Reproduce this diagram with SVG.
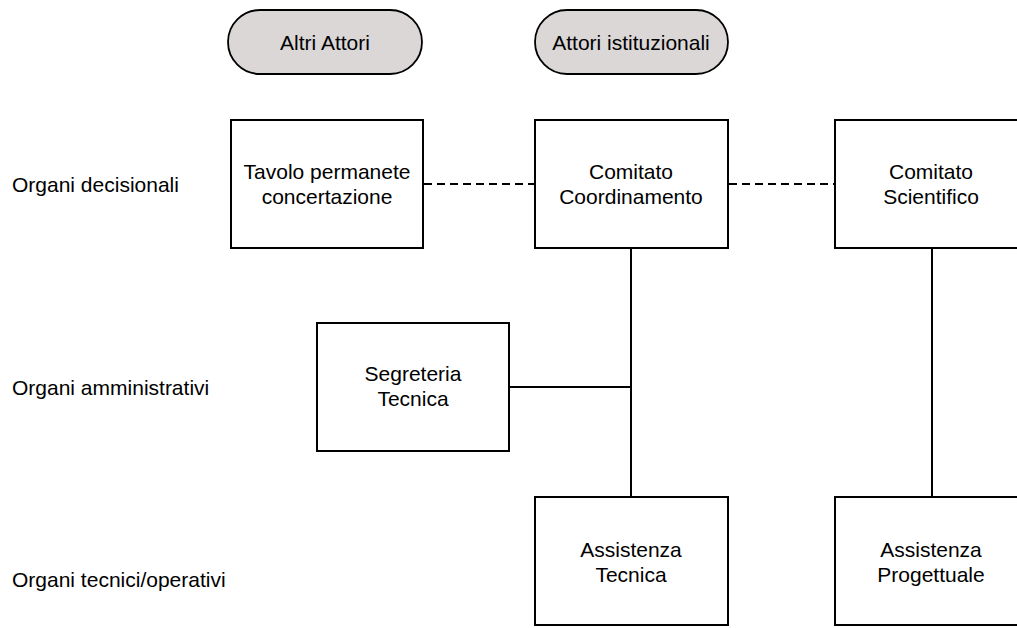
<svg xmlns="http://www.w3.org/2000/svg" width="1017" height="628" viewBox="0 0 1017 628">
<style>
text{font-family:"Liberation Sans",Arial,sans-serif;font-size:21px;fill:#000}
.c{text-anchor:middle}
.box{fill:#fff;stroke:#000;stroke-width:2}
.pill{fill:#dbd7d7;stroke:#000;stroke-width:1.8}
.ln{stroke:#000;stroke-width:2;fill:none}
.dash{stroke:#000;stroke-width:2;fill:none;stroke-dasharray:8 5}
</style>
<rect width="1017" height="628" fill="#fff"/>
<g id="labels">
<text x="12" y="192">Organi decisionali</text>
<text x="12" y="395">Organi amministrativi</text>
<text x="12" y="587">Organi tecnici/operativi</text>
</g>
<g id="connectors">
<line class="dash" x1="424" y1="184" x2="535" y2="184"/>
<line class="dash" x1="729" y1="184" x2="835" y2="184"/>
<line class="ln" x1="631" y1="248" x2="631" y2="497"/>
<line class="ln" x1="509" y1="387" x2="631" y2="387"/>
<line class="ln" x1="932" y1="248" x2="932" y2="497"/>
</g>
<g id="altri-attori">
<rect class="pill" x="228" y="10" width="194" height="64" rx="32"/>
<text class="c" x="325" y="50">Altri Attori</text>
</g>
<g id="attori-istituzionali">
<rect class="pill" x="535" y="10" width="193" height="64" rx="32"/>
<text class="c" x="631" y="50">Attori istituzionali</text>
</g>
<g id="tavolo">
<rect class="box" x="231" y="120" width="192" height="128"/>
<text class="c" x="327" y="179">Tavolo permanete</text>
<text class="c" x="327" y="204">concertazione</text>
</g>
<g id="comitato-coordinamento">
<rect class="box" x="535" y="120" width="193" height="128"/>
<text class="c" x="631" y="179">Comitato</text>
<text class="c" x="631" y="204">Coordinamento</text>
</g>
<g id="comitato-scientifico">
<rect class="box" x="835" y="120" width="193" height="128"/>
<text class="c" x="931" y="179">Comitato</text>
<text class="c" x="931" y="204">Scientifico</text>
</g>
<g id="segreteria-tecnica">
<rect class="box" x="317" y="323" width="192" height="128"/>
<text class="c" x="413" y="381">Segreteria</text>
<text class="c" x="413" y="406">Tecnica</text>
</g>
<g id="assistenza-tecnica">
<rect class="box" x="535" y="497" width="193" height="128"/>
<text class="c" x="631" y="557">Assistenza</text>
<text class="c" x="631" y="582">Tecnica</text>
</g>
<g id="assistenza-progettuale">
<rect class="box" x="835" y="497" width="193" height="128"/>
<text class="c" x="931" y="557">Assistenza</text>
<text class="c" x="931" y="582">Progettuale</text>
</g>
</svg>
